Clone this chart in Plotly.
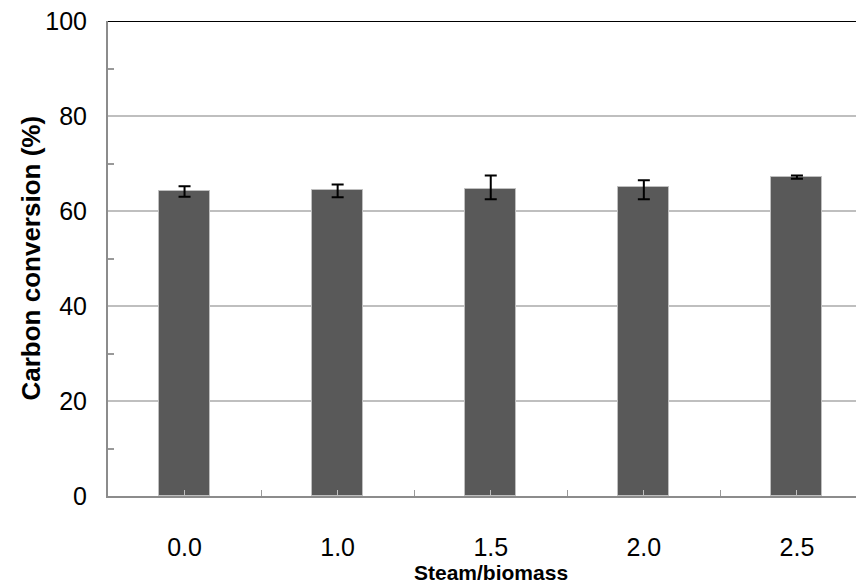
import plotly.graph_objects as go

categories = ["0.0", "1.0", "1.5", "2.0", "2.5"]
conversion = [64.2, 64.5, 64.6, 65.0, 67.2]
err_plus = [1.0, 1.1, 2.9, 1.5, 0.3]
err_minus = [1.2, 1.6, 2.1, 2.5, 0.4]
y_ticks = [0, 20, 40, 60, 80, 100]

xpos = list(range(len(categories)))

fig = go.Figure()
fig.add_trace(go.Bar(
    x=xpos, y=conversion, width=0.333,
    marker=dict(color="#595959", line=dict(color="#bfbfbf", width=1)),
    error_y=dict(type="data", symmetric=False, array=err_plus, arrayminus=err_minus,
                 color="black", thickness=2, width=6),
))

# page body has an 8px default margin; compensate so the plot lands where the reference has it
fig.update_layout(
    width=856, height=576,
    margin=dict(l=100, r=0, t=13, b=88),
    paper_bgcolor="white", plot_bgcolor="white",
    font=dict(family="Liberation Sans, Arial, sans-serif", size=25, color="black"),
    showlegend=False,
    bargap=0,
)
fig.update_xaxes(
    range=[-0.5, 4.438],
    tickvals=xpos, ticktext=categories,
    ticks="inside", ticklen=6, tickcolor="#bfbfbf", tickwidth=1,
    minor=dict(tick0=-0.5, dtick=1, ticks="inside", ticklen=6, tickcolor="#999999", tickwidth=1),
    showline=True, linecolor="#8c8c8c", linewidth=2,
    showgrid=False, zeroline=False,
    tickfont=dict(size=25),
    ticklabelstandoff=28,
)
fig.update_yaxes(
    range=[0, 100],
    tickvals=y_ticks,
    ticks="",
    minor=dict(tick0=10, dtick=20, ticks="inside", ticklen=6, tickcolor="#999999", tickwidth=2, showgrid=False),
    showline=True, linecolor="#8c8c8c", linewidth=2,
    showgrid=True, gridcolor="#bfbfbf", gridwidth=2,
    zeroline=False,
    tickfont=dict(size=25),
    ticklabelstandoff=14,
    ticklabeloverflow="allow",
)
fig.add_shape(type="line", xref="paper", yref="y", x0=0, x1=1, y0=100, y1=100,
              line=dict(color="black", width=2))
fig.add_annotation(text="<b>Steam/biomass</b>", xref="paper", yref="paper",
                   x=0.5063, y=0, yshift=-76, showarrow=False, xanchor="center", yanchor="middle",
                   font=dict(size=21))
fig.add_annotation(text="<b>Carbon conversion (%)</b>", xref="paper", yref="paper",
                   x=0, xshift=-78, y=0.5, showarrow=False, textangle=-90,
                   xanchor="center", yanchor="middle", font=dict(size=26))

fig.write_html("out.html")
